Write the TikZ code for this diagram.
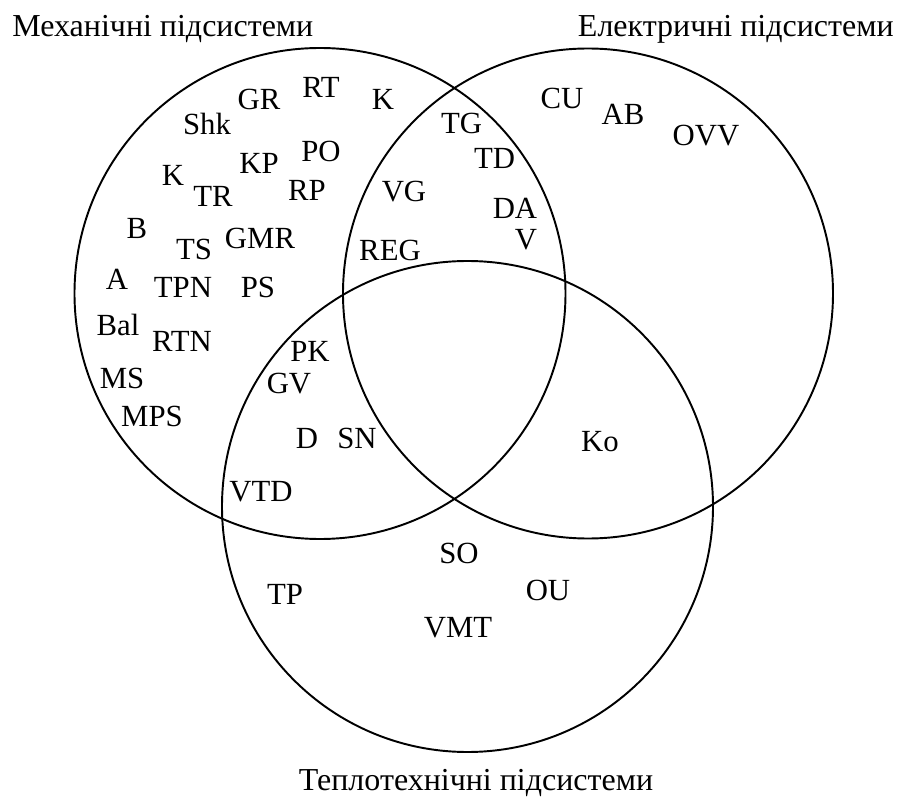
\documentclass[tikz,border=0pt]{standalone}
\usepackage{fontspec}
\setmainfont{Liberation Serif}
\usepackage{tikz}
\usetikzlibrary{positioning}

\begin{document}
\begin{tikzpicture}[
		ring/.style={line width=1.1pt},
		lbl/.style={inner sep=0pt,font=\fontsize{17.5}{20}\selectfont},
		ttl/.style={inner sep=0pt,font=\fontsize{18.2}{21}\selectfont}]
			\useasboundingbox (0,0) rectangle (17.94,15.92);
			% три множини
			\draw[ring] (6.40,10.05) circle [radius=4.91cm];
			\draw[ring] (11.76,10.05) circle [radius=4.90cm];
			\draw[ring] (9.35,5.79) circle [radius=4.91cm];
			
			\node[ttl,anchor=base west] (mech) at (0.24,15.18) {Механічні підсистеми};
			\node[ttl,anchor=base east] (elec) at (17.88,15.18) {Електричні підсистеми};
			\node[ttl,anchor=base] (heat) at (9.52,0.12) {Теплотехнічні підсистеми};
			
			% механічні
			\node[lbl] (shk) at (4.14,13.44) {Shk};
			\node[lbl] (gr) at (5.18,13.94) {GR};
			\node[lbl] (rt) at (6.42,14.18) {RT};
			\node[lbl] (k1) at (7.66,13.94) {K};
			\node[lbl] (po) at (6.42,12.90) {PO};
			\node[lbl] (kp) at (5.18,12.66) {KP};
			\node[lbl] (k2) at (3.46,12.42) {K};
			\node[lbl] (tr) at (4.26,12.00) {TR};
			\node[lbl] (rp) at (6.14,12.12) {RP};
			\node[lbl] (b) at (2.74,11.36) {B};
			\node[lbl] (ts) at (3.88,10.94) {TS};
			\node[lbl] (gmr) at (5.20,11.16) {GMR};
			\node[lbl] (a) at (2.34,10.34) {A};
			\node[lbl] (tpn) at (3.66,10.18) {TPN};
			\node[lbl] (ps) at (5.16,10.18) {PS};
			\node[lbl] (bal) at (2.36,9.42) {Bal};
			\node[lbl] (rtn) at (3.64,9.10) {RTN};
			\node[lbl] (ms) at (2.44,8.36) {MS};
			\node[lbl] (mps) at (3.04,7.60) {MPS};
			
			% механічні + електричні
			\node[lbl] (tg) at (9.23,13.46) {TG};
			\node[lbl] (td) at (9.89,12.76) {TD};
			\node[lbl] (vg) at (8.08,12.08) {VG};
			\node[lbl] (da) at (10.30,11.76) {DA};
			\node[lbl] (v) at (10.52,11.12) {V};
			\node[lbl] (reg) at (7.80,10.92) {REG};
			
			% електричні
			\node[lbl] (cu) at (11.24,13.96) {CU};
			\node[lbl] (ab) at (12.46,13.64) {AB};
			\node[lbl] (ovv) at (14.12,13.20) {OVV};
			\node[lbl] (ko) at (12.00,7.08) {Ko};
			
			% механічні + теплотехнічні
			\node[lbl] (pk) at (6.20,8.90) {PK};
			\node[lbl] (gv) at (5.78,8.24) {GV};
			\node[lbl] (d) at (6.14,7.16) {D};
			\node[lbl] (sn) at (7.14,7.16) {SN};
			\node[lbl] (vtd) at (5.22,6.08) {VTD};
			
			% теплотехнічні
			\node[lbl] (so) at (9.18,4.86) {SO};
			\node[lbl] (tp) at (5.70,4.04) {TP};
			\node[lbl] (ou) at (10.96,4.12) {OU};
			\node[lbl] (vmt) at (9.16,3.36) {VMT};
		\end{tikzpicture}
\end{document}
